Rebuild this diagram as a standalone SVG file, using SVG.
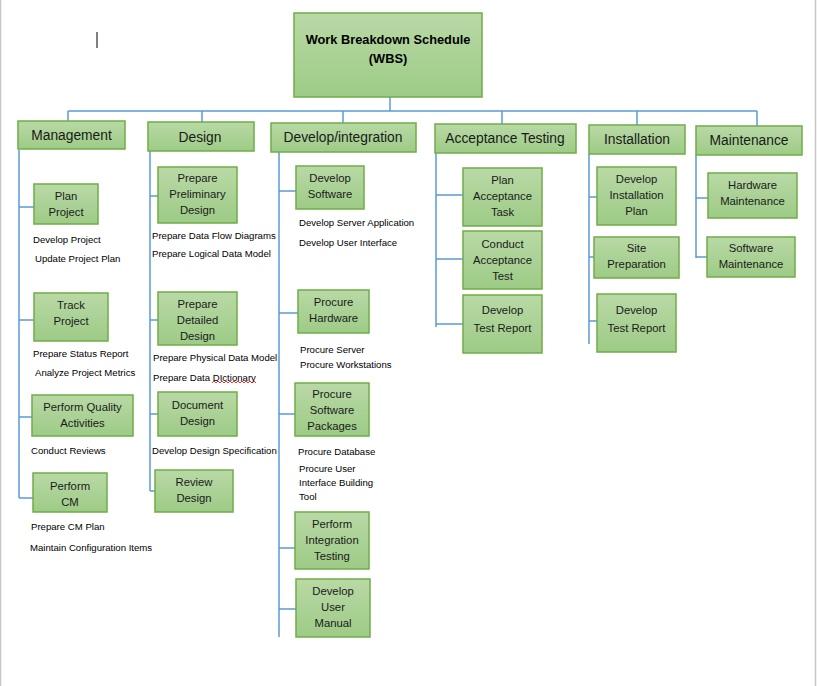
<svg xmlns="http://www.w3.org/2000/svg" width="817" height="686" viewBox="0 0 817 686">
<defs>
<linearGradient id="g" x1="0" y1="0" x2="0" y2="1">
<stop offset="0" stop-color="#b9d9a6"/>
<stop offset="1" stop-color="#9dcb86"/>
</linearGradient>
<style>
.b{fill:url(#g);stroke:#70ad47;stroke-width:1.5}
.t1{font-family:"Liberation Sans",Arial,sans-serif;font-size:13.8px;fill:#1a1a1a;text-anchor:middle}
.t2{font-family:"Liberation Sans",Arial,sans-serif;font-size:11.3px;fill:#1a1a1a;text-anchor:middle}
.s{font-family:"Liberation Sans",Arial,sans-serif;font-size:9.6px;fill:#000}
.r{font-family:"Liberation Sans",Arial,sans-serif;font-size:12.8px;font-weight:bold;fill:#000;text-anchor:middle}
.c{fill:none;stroke:#5b9bd5;stroke-width:1.5}
</style>
</defs>
<rect width="817" height="686" fill="#fff"/>
<line x1="0.5" y1="0" x2="0.5" y2="686" stroke="#c6c6c6" stroke-width="1.5"/>
<line x1="815.5" y1="0" x2="815.5" y2="686" stroke="#c6c6c6" stroke-width="1.5"/>
<line x1="97" y1="32" x2="97" y2="48" stroke="#000" stroke-width="1"/>

<g id="connectors">
<path class="c" d="M390 97V111M68 111H757M68 111V121M202 111V122M343 111V123M502 111V124M637 111V125M757 111V126"/>
<path class="c" d="M19 150V498M19 207H34M19 320H34M19 417H32M19 498H33"/>
<path class="c" d="M150 151V491M150 196H158M150 320H158M150 414H158M150 491H155"/>
<path class="c" d="M279 152V637M279 191H296M279 313H298M279 414H295M279 548H295M279 609H296"/>
<path class="c" d="M436 153V327M436 195H463M436 259H463M436 324H463"/>
<path class="c" d="M589 154V344M589 197H597M589 257H594M589 321H597"/>
<path class="c" d="M696 155V258M696 198H708M696 257H707"/>
</g>

<g id="root">
<rect class="b" x="294" y="13" width="188" height="84"/>
<text class="r" x="388" y="44">Work Breakdown Schedule</text>
<text class="r" x="388" y="63">(WBS)</text>
</g>

<g id="management">
<rect class="b" x="18" y="121" width="107" height="28"/>
<text class="t1" x="71.5" y="140">Management</text>
</g>
<g id="design">
<rect class="b" x="148" y="122" width="106" height="29"/>
<text class="t1" x="200" y="142">Design</text>
</g>
<g id="develop-integration">
<rect class="b" x="271" y="123" width="145" height="29"/>
<text class="t1" x="343" y="142">Develop/integration</text>
</g>
<g id="acceptance-testing">
<rect class="b" x="435" y="124" width="141" height="29"/>
<text class="t1" x="505" y="143">Acceptance Testing</text>
</g>
<g id="installation">
<rect class="b" x="589" y="125" width="96" height="29"/>
<text class="t1" x="637" y="144">Installation</text>
</g>
<g id="maintenance">
<rect class="b" x="696" y="126" width="106" height="29"/>
<text class="t1" x="749" y="145">Maintenance</text>
</g>

<g id="plan-project">
<rect class="b" x="34" y="184" width="64" height="40"/>
<text class="t2" x="66" y="200">Plan</text>
<text class="t2" x="66" y="216">Project</text>
</g>
<g id="track-project">
<rect class="b" x="34" y="293" width="74" height="48"/>
<text class="t2" x="71" y="309">Track</text>
<text class="t2" x="71" y="325">Project</text>
</g>
<g id="perform-quality">
<rect class="b" x="32" y="395" width="101" height="41"/>
<text class="t2" x="82.5" y="411">Perform Quality</text>
<text class="t2" x="82.5" y="427">Activities</text>
</g>
<g id="perform-cm">
<rect class="b" x="33" y="473" width="74" height="39"/>
<text class="t2" x="70" y="490">Perform</text>
<text class="t2" x="70" y="506">CM</text>
</g>

<g id="prepare-preliminary-design">
<rect class="b" x="158" y="167" width="79" height="56"/>
<text class="t2" x="197.5" y="182">Prepare</text>
<text class="t2" x="197.5" y="198">Preliminary</text>
<text class="t2" x="197.5" y="214">Design</text>
</g>
<g id="prepare-detailed-design">
<rect class="b" x="158" y="292" width="79" height="53"/>
<text class="t2" x="197.5" y="308">Prepare</text>
<text class="t2" x="197.5" y="324">Detailed</text>
<text class="t2" x="197.5" y="340">Design</text>
</g>
<g id="document-design">
<rect class="b" x="158" y="392" width="79" height="44"/>
<text class="t2" x="197.5" y="409">Document</text>
<text class="t2" x="197.5" y="425">Design</text>
</g>
<g id="review-design">
<rect class="b" x="155" y="470" width="78" height="42"/>
<text class="t2" x="194" y="486">Review</text>
<text class="t2" x="194" y="502">Design</text>
</g>

<g id="develop-software">
<rect class="b" x="296" y="166" width="68" height="43"/>
<text class="t2" x="330" y="182">Develop</text>
<text class="t2" x="330" y="198">Software</text>
</g>
<g id="procure-hardware">
<rect class="b" x="298" y="290" width="71" height="43"/>
<text class="t2" x="333.5" y="306">Procure</text>
<text class="t2" x="333.5" y="322">Hardware</text>
</g>
<g id="procure-software-packages">
<rect class="b" x="295" y="383" width="74" height="53"/>
<text class="t2" x="332" y="398">Procure</text>
<text class="t2" x="332" y="414">Software</text>
<text class="t2" x="332" y="430">Packages</text>
</g>
<g id="perform-integration-testing">
<rect class="b" x="295" y="512" width="74" height="57"/>
<text class="t2" x="332" y="528">Perform</text>
<text class="t2" x="332" y="544">Integration</text>
<text class="t2" x="332" y="560">Testing</text>
</g>
<g id="develop-user-manual">
<rect class="b" x="296" y="579" width="74" height="58"/>
<text class="t2" x="333" y="595">Develop</text>
<text class="t2" x="333" y="611">User</text>
<text class="t2" x="333" y="627">Manual</text>
</g>

<g id="plan-acceptance-task">
<rect class="b" x="463" y="168" width="79" height="58"/>
<text class="t2" x="502.5" y="184">Plan</text>
<text class="t2" x="502.5" y="200">Acceptance</text>
<text class="t2" x="502.5" y="216">Task</text>
</g>
<g id="conduct-acceptance-test">
<rect class="b" x="463" y="231" width="79" height="58"/>
<text class="t2" x="502.5" y="248">Conduct</text>
<text class="t2" x="502.5" y="264">Acceptance</text>
<text class="t2" x="502.5" y="280">Test</text>
</g>
<g id="develop-test-report-acc">
<rect class="b" x="463" y="295" width="79" height="58"/>
<text class="t2" x="502.5" y="314">Develop</text>
<text class="t2" x="502.5" y="332">Test Report</text>
</g>

<g id="develop-installation-plan">
<rect class="b" x="597" y="167" width="79" height="58"/>
<text class="t2" x="636.5" y="183">Develop</text>
<text class="t2" x="636.5" y="199">Installation</text>
<text class="t2" x="636.5" y="215">Plan</text>
</g>
<g id="site-preparation">
<rect class="b" x="594" y="237" width="85" height="41"/>
<text class="t2" x="636.5" y="252">Site</text>
<text class="t2" x="636.5" y="268">Preparation</text>
</g>
<g id="develop-test-report-inst">
<rect class="b" x="597" y="294" width="79" height="58"/>
<text class="t2" x="636.5" y="314">Develop</text>
<text class="t2" x="636.5" y="332">Test Report</text>
</g>

<g id="hardware-maintenance">
<rect class="b" x="708" y="173" width="89" height="45"/>
<text class="t2" x="752.5" y="189">Hardware</text>
<text class="t2" x="752.5" y="205">Maintenance</text>
</g>
<g id="software-maintenance">
<rect class="b" x="707" y="237" width="88" height="40"/>
<text class="t2" x="751" y="252">Software</text>
<text class="t2" x="751" y="268">Maintenance</text>
</g>

<g id="notes">
<text class="s" x="33" y="242.5">Develop Project</text>
<text class="s" x="35" y="261.5">Update Project Plan</text>
<text class="s" x="33" y="356.5">Prepare Status Report</text>
<text class="s" x="35" y="375.5">Analyze Project Metrics</text>
<text class="s" x="31" y="453.5">Conduct Reviews</text>
<text class="s" x="31" y="529.5">Prepare CM Plan</text>
<text class="s" x="30" y="550.5">Maintain Configuration Items</text>
<text class="s" x="152" y="238.5">Prepare Data Flow Diagrams</text>
<text class="s" x="152" y="256.5">Prepare Logical Data Model</text>
<text class="s" x="153" y="361">Prepare Physical Data Model</text>
<text class="s" x="153" y="381">Prepare Data DIctionary</text>
<text class="s" x="152" y="453.5">Develop Design Specification</text>
<text class="s" x="299" y="225.5">Develop Server Application</text>
<text class="s" x="299" y="245.5">Develop User Interface</text>
<text class="s" x="300" y="352.5">Procure Server</text>
<text class="s" x="300" y="367.5">Procure Workstations</text>
<text class="s" x="298" y="454.5">Procure Database</text>
<text class="s" x="299" y="472">Procure User</text>
<text class="s" x="299" y="486">Interface Building</text>
<text class="s" x="299" y="499.5">Tool</text>
<path d="M212 383l2 -2l2 2l2 -2l2 2l2 -2l2 2l2 -2l2 2l2 -2l2 2l2 -2l2 2l2 -2l2 2l2 -2l2 2l2 -2l2 2l2 -2l2 2l2 -2l2 2" fill="none" stroke="#e00000" stroke-width="0.8"/>
</g>
</svg>
